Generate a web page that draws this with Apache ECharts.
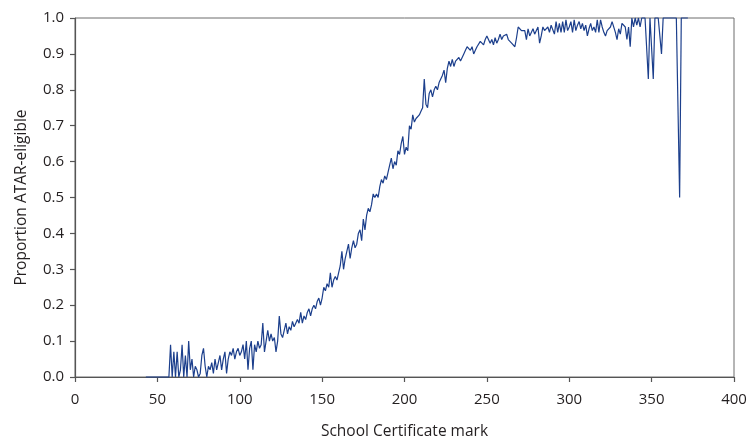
<!DOCTYPE html>
<html>
<head>
<meta charset="utf-8">
<script src="https://cdn.jsdelivr.net/npm/echarts@6/dist/echarts.min.js"></script>
<style>
html,body{margin:0;padding:0;background:#fff;}
#chart{width:751px;height:441px;}
</style>
</head>
<body>
<div id="chart"></div>
<script>
// x tick labels and y tick labels
const xTicks = [0, 50, 100, 150, 200, 250, 300, 350, 400];
const yTicks = [0.0, 0.1, 0.2, 0.3, 0.4, 0.5, 0.6, 0.7, 0.8, 0.9, 1.0];

// Proportion ATAR-eligible by School Certificate mark, segment by segment
// Each segment starts at the given mark, one value per mark.
const seg43Start = 43;
const seg43 = [0,0,0,0,0,0,0,0,0,0,0,0,0,0,0];

const seg58Start = 58;
const seg58 = [0.09,0,0.07,0,0.07,0,0.02,0.09,0,0.06,
  0,0.10,0.02,0.05,0,0.03,0.02,0,0.01,0.06,
  0.08,0.03,0,0.03,0.02,0.04,0.01,0.05,0.02,0.04,
  0.06,0.02,0.05,0.07,0.01,0.05,0.07,0.06,0.08,0.05,
  0.07,0.08,0.06];

const seg101Start = 101;
const seg101 = [0.07,0.09,0.05,0.10,0.02,0.08,0.10,0.02,0.09,0.07,
  0.10,0.08,0.09,0.15,0.07,0.10,0.13,0.10,0.12,0.10,
  0.11,0.07,0.10,0.17,0.12,0.11,0.13,0.15,0.12,0.14,
  0.13,0.155,0.14,0.15,0.16,0.15,0.18,0.15,0.17,0.16,
  0.18,0.19,0.17,0.19,0.20,0.19,0.21,0.22,0.20,0.22];

const seg151Start = 151;
const seg151 = [0.25,0.24,0.26,0.25,0.29,0.25,0.27,0.28,0.27,0.29,
  0.31,0.35,0.30,0.33,0.35,0.37,0.33,0.36,0.38,0.36,
  0.37,0.40,0.41,0.38,0.44,0.41,0.45,0.47,0.46,0.48,
  0.51,0.50,0.51,0.50,0.53,0.55,0.54,0.56,0.55,0.57,
  0.59,0.61,0.58,0.60,0.59,0.63,0.62,0.65,0.67,0.62];

const seg201Start = 201;
const seg201 = [0.64,0.63,0.70,0.69,0.73,0.71,0.72,0.72,0.73,0.74,
  0.75,0.83,0.76,0.75,0.79,0.80,0.78,0.80,0.81,0.80,
  0.82,0.815,0.84,0.855,0.82,0.86,0.88,0.865,0.885,0.865,
  0.88,0.875,0.89,0.88,0.89,0.90,0.91,0.92,0.915,0.91,
  0.92,0.90,0.91,0.92,0.925,0.935,0.93,0.925,0.94,0.95];

const seg251Start = 251;
const seg251 = [0.95,0.93,0.94,0.925,0.945,0.93,0.94,0.955,0.94,0.95,
  0.945,0.955,0.94,0.945,0.93,0.925,0.92,0.945,0.975,0.97,
  0.965,0.96,0.965,0.94,0.97,0.95,0.945,0.97,0.955,0.96,
  0.975,0.93,0.95,0.975,0.965,0.96,0.975,0.96,0.98,0.985,
  0.955,0.99,0.96,0.985,0.96,0.99,0.96,0.995,0.965,0.975,
  0.99,0.96,0.995,0.965,0.98,0.99,0.97,0.985,0.965,0.98];

const seg311Start = 311;
const seg311 = [0.95,0.97,0.985,0.965,0.975,0.96,0.995,0.96,0.995,0.975,
  0.96,0.95,0.965,0.97,0.975,0.99,0.985,0.96,0.94,0.97,
  0.955,0.985,0.99,0.975,0.94,0.975,0.92,1.0,0.975,1.0,
  0.98,1.0,0.975,1.0,1.0,1.0,1.0,0.83,1.0,1.0,
  0.83,1.0,1.0,1.0,1.0,0.9,1.0,1.0,1.0,1.0,
  1.0,1.0,1.0,1.0,1.0,1.0,0.5,1.0,1.0,1.0,
  1.0,1.0];

const segments = [
  [seg43Start, seg43], [seg58Start, seg58], [seg101Start, seg101],
  [seg151Start, seg151], [seg201Start, seg201], [seg251Start, seg251],
  [seg311Start, seg311]
];
const points = [];
segments.forEach(([start, vals]) => {
  vals.forEach((v, i) => points.push([start + i, v]));
});

const FONT = '"Open Sans", "Noto Sans", sans-serif';
const TXT = '#231f20';
const AX = '#555555';

const chart = echarts.init(document.getElementById('chart'), null, {renderer: 'canvas'});
chart.setOption({
  animation: false,
  backgroundColor: '#ffffff',
  grid: {
    left: 75, right: 17, top: 18, bottom: 64,
    containLabel: false, outerBoundsMode: 'none',
    show: true, borderColor: '#6d6d6d', borderWidth: 1, backgroundColor: 'transparent'
  },
  xAxis: {
    type: 'value',
    min: xTicks[0], max: xTicks[xTicks.length - 1], interval: 50,
    name: 'School Certificate mark',
    nameLocation: 'middle', nameGap: 47,
    nameTextStyle: {color: TXT, fontFamily: FONT, fontSize: 15.5},
    axisLine: {show: true, lineStyle: {color: AX, width: 1.2}},
    axisTick: {show: true, inside: false, length: 5, lineStyle: {color: AX, width: 1.2}},
    axisLabel: {color: TXT, fontFamily: FONT, fontSize: 15, margin: 15},
    splitLine: {show: false}
  },
  yAxis: {
    type: 'value',
    min: yTicks[0], max: yTicks[yTicks.length - 1], interval: 0.1,
    name: 'Proportion ATAR-eligible',
    nameLocation: 'middle', nameGap: 45, nameRotate: 90,
    nameTextStyle: {color: TXT, fontFamily: FONT, fontSize: 15.5},
    axisLine: {show: true, lineStyle: {color: AX, width: 1.2}},
    axisTick: {show: true, inside: false, length: 5, lineStyle: {color: AX, width: 1.2}},
    axisLabel: {color: TXT, fontFamily: FONT, fontSize: 15, margin: 11,
      formatter: v => v.toFixed(1)},
    splitLine: {show: false}
  },
  series: [{
    type: 'line',
    data: points,
    showSymbol: false,
    symbol: 'none',
    clip: false,
    lineStyle: {color: '#1c3f8c', width: 1.2},
    z: 3
  }]
});
</script>
</body>
</html>
